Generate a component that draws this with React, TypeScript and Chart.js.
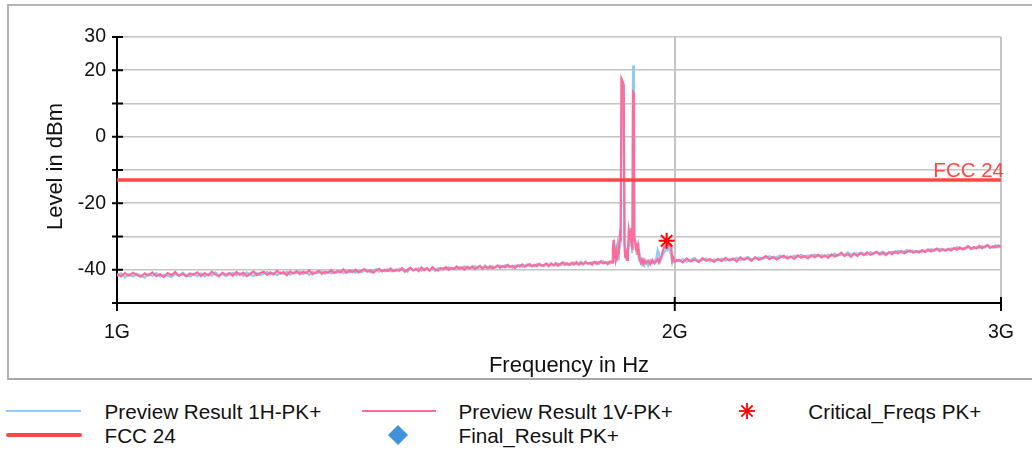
import React, { useEffect, useRef } from 'react';
import { Chart, registerables } from 'chart.js';

Chart.register(...registerables);

// ---------- data ----------
const FREQ_MHZ = [
  1000, 1005, 1010, 1015, 1020, 1025, 1030, 1035, 1040, 1045,
  1050, 1055, 1060, 1065, 1070, 1075, 1080, 1085, 1090, 1095,
  1100, 1105, 1110, 1115, 1120, 1125, 1130, 1135, 1140, 1145,
  1150, 1155, 1160, 1165, 1170, 1175, 1180, 1185, 1190, 1195,
  1200, 1205, 1210, 1215, 1220, 1225, 1230, 1235, 1240, 1245,
  1250, 1255, 1260, 1265, 1270, 1275, 1280, 1285, 1290, 1295,
  1300, 1305, 1310, 1315, 1320, 1325, 1330, 1335, 1340, 1345,
  1350, 1355, 1360, 1365, 1370, 1375, 1380, 1385, 1390, 1395,
  1400, 1405, 1410, 1415, 1420, 1425, 1430, 1435, 1440, 1445,
  1450, 1455, 1460, 1465, 1470, 1475, 1480, 1485, 1490, 1495,
  1500, 1505, 1510, 1515, 1520, 1525, 1530, 1535, 1540, 1545,
  1550, 1555, 1560, 1565, 1570, 1575, 1580, 1585, 1590, 1595,
  1600, 1605, 1610, 1615, 1620, 1625, 1630, 1635, 1640, 1645,
  1650, 1655, 1660, 1665, 1670, 1675, 1680, 1685, 1690, 1695,
  1700, 1705, 1710, 1715, 1720, 1725, 1730, 1735, 1740, 1745,
  1750, 1755, 1760, 1765, 1770, 1775, 1780, 1785, 1790, 1795,
  1800, 1805, 1810, 1815, 1820, 1825, 1830, 1835, 1840, 1845,
  1850,
  1852, 1854, 1856, 1858, 1860, 1862, 1864, 1866, 1868, 1870,
  1872, 1875, 1877,
  1879, 1881, 1883, 1885, 1887, 1889, 1891, 1893, 1895, 1897,
  1898, 1899, 1901, 1902,
  1904, 1906, 1908, 1910, 1912, 1914,
  1917, 1920, 1923, 1926, 1930,
  1935, 1940, 1945, 1950, 1955,
  1958, 1961, 1964, 1967, 1970, 1973, 1976, 1979, 1982, 1985, 1988, 1991, 1994, 1997,
  2000,
  2010, 2020, 2030, 2040, 2050, 2060, 2070, 2080, 2090, 2100,
  2110, 2120, 2130, 2140, 2150, 2160, 2170, 2180, 2190, 2200,
  2210, 2220, 2230, 2240, 2250, 2260, 2270, 2280, 2290, 2300,
  2310, 2320, 2330, 2340, 2350, 2360, 2370, 2380, 2390, 2400,
  2410, 2420, 2430, 2440, 2450, 2460, 2470, 2480, 2490, 2500,
  2510, 2520, 2530, 2540, 2550, 2560, 2570, 2580, 2590, 2600,
  2610, 2620, 2630, 2640, 2650, 2660, 2670, 2680, 2690, 2700,
  2710, 2720, 2730, 2740, 2750, 2760, 2770, 2780, 2790, 2800,
  2810, 2820, 2830, 2840, 2850, 2860, 2870, 2880, 2890, 2900,
  2910, 2920, 2930, 2940, 2950, 2960, 2970, 2980, 2990, 3000,
];

const LEVEL_1H = [
  -41.8, -41.1, -42.3, -41.4, -42.0, -41.2, -41.7, -42.4, -41.3, -41.9,
  -41.0, -42.1, -41.5, -41.8, -42.2, -41.3, -41.9, -40.9, -41.6, -42.0,
  -41.2, -41.9, -41.1, -42.0, -41.3, -41.8, -40.8, -41.7, -41.2, -41.9,
  -41.4, -40.9, -41.7, -41.1, -41.8, -40.8, -41.5, -41.9, -41.0, -41.6,
  -41.2, -40.7, -41.4, -40.9, -41.6, -40.8, -41.3, -40.6, -41.5, -40.9,
  -41.0, -40.5, -41.3, -40.8, -41.5, -40.6, -41.1, -40.9, -40.4, -41.2,
  -40.5, -41.1, -40.6, -40.9, -40.2, -41.0, -40.5, -40.8, -40.1, -40.9,
  -40.2, -40.7, -40.4, -40.0, -40.8, -40.3, -39.8, -40.6, -40.1, -40.5,
  -39.8, -40.5, -40.0, -40.4, -39.7, -40.2, -39.9, -40.6, -39.6, -40.1,
  -40.0, -39.6, -40.3, -39.8, -39.4, -40.1, -39.7, -40.3, -39.5, -39.9,
  -39.5, -39.9, -39.3, -39.8, -39.5, -39.9, -39.2, -39.6, -39.0, -39.7,
  -39.3, -39.5, -38.9, -39.6, -39.2, -39.4, -38.7, -39.3, -39.6, -38.9,
  -39.4, -39.0, -38.8, -39.3, -38.6, -39.1, -38.9, -39.4, -38.7, -39.0,
  -38.6, -39.1, -38.8, -38.4, -38.9, -38.6, -39.0, -38.3, -38.7, -38.5,
  -38.9, -38.4, -38.6, -38.0, -38.5, -38.7, -38.2, -38.6, -38.4, -37.9,
  -38.5, -38.2, -38.4, -37.8, -38.3, -38.1, -37.6, -38.4, -38.0, -37.9,
  -38.2, -37.7, -38.0, -37.6, -38.3, -37.9, -37.5, -38.0, -37.6, -38.1,
  -37.4,
  -36.5, -35.0, -33.0, -36.0, -34.0, -32.5, -36.8, -34.0, -33.5, -31.0,
  16.8, 16.0, 15.0,
  -31.5, -34.0, -37.0, -33.5, -36.0, -31.0, -30.0, -33.0, -30.5, -35.0,
  -35.0, 21.4, 13.5, -31.0,
  -31.0, -33.0, -35.5, -33.5, -36.0, -35.0,
  -36.8, -38.2, -37.2, -38.6, -37.4,
  -38.8, -37.2, -38.0, -37.4, -36.5,
  -34.0, -35.0, -37.5, -36.5, -35.5, -35.0, -34.5, -33.5, -34.0, -33.2, -34.5, -35.5, -38.0, -37.2,
  -36.7,
  -37.5, -36.8, -37.6, -37.0, -36.5, -37.4, -37.1, -36.6, -37.5, -36.9,
  -37.2, -36.6, -37.3, -36.8, -37.0, -36.4, -37.1, -36.7, -36.2, -36.9,
  -36.6, -36.3, -36.8, -36.4, -35.9, -36.5, -36.2, -35.7, -36.4, -36.0,
  -36.3, -35.8, -36.2, -35.5, -36.1, -35.7, -36.0, -35.4, -35.9, -35.6,
  -36.0, -35.5, -35.8, -35.1, -35.7, -35.4, -35.6, -34.8, -35.5, -35.0,
  -35.3, -34.9, -35.2, -35.5, -34.7, -35.2, -34.8, -35.0, -34.5, -35.1,
  -35.0, -34.6, -34.9, -34.3, -34.8, -34.5, -34.0, -34.7, -34.3, -34.6,
  -34.3, -34.6, -34.2, -34.4, -33.8, -34.3, -34.1, -33.7, -34.2, -33.9,
  -34.0, -33.6, -33.8, -33.2, -33.7, -33.5, -33.8, -33.1, -33.4, -33.6,
  -33.2, -33.5, -32.9, -33.3, -32.8, -33.1, -33.4, -32.6, -33.2, -32.9,
];

const LEVEL_1V = [
  -41.2, -42.0, -41.0, -41.8, -40.9, -41.6, -42.1, -41.1, -41.7, -40.8,
  -41.9, -41.3, -42.2, -41.0, -41.6, -40.7, -41.8, -41.2, -42.0, -41.1,
  -41.5, -40.8, -41.9, -41.0, -41.7, -40.6, -41.4, -42.0, -40.9, -41.6,
  -41.0, -41.8, -40.7, -41.5, -40.9, -41.9, -41.2, -40.5, -41.6, -41.0,
  -40.6, -41.5, -40.8, -41.4, -40.3, -41.2, -40.7, -41.6, -40.5, -41.1,
  -40.4, -41.3, -40.6, -41.0, -40.2, -41.4, -40.8, -40.3, -41.2, -40.6,
  -40.9, -40.1, -41.0, -40.4, -40.8, -39.9, -40.9, -40.2, -40.7, -40.0,
  -40.8, -40.3, -39.8, -40.6, -40.1, -40.9, -40.2, -39.7, -40.5, -40.0,
  -40.4, -39.6, -40.5, -39.9, -40.3, -39.5, -40.6, -40.0, -39.4, -40.2,
  -39.7, -40.4, -39.3, -40.1, -39.6, -40.3, -39.2, -39.9, -40.2, -39.5,
  -39.9, -39.2, -40.0, -39.4, -39.8, -39.0, -39.7, -39.3, -40.0, -39.1,
  -39.6, -39.0, -39.8, -39.2, -38.8, -39.7, -39.1, -39.5, -38.9, -39.6,
  -39.2, -38.7, -39.4, -38.9, -39.3, -38.5, -39.2, -38.8, -39.5, -38.6,
  -39.0, -38.4, -39.1, -38.7, -38.3, -39.0, -38.5, -38.9, -38.2, -38.8,
  -38.6, -38.1, -38.9, -38.3, -38.7, -38.0, -38.8, -38.2, -37.8, -38.5,
  -38.1, -38.6, -37.9, -38.4, -37.7, -38.5, -38.0, -38.3, -37.6, -38.2,
  -37.9, -38.4, -37.6, -38.2, -37.8, -37.4, -38.1, -37.7, -38.3, -37.5,
  -37.9,
  -33.5, -31.0, -35.5, -37.0, -34.5, -36.2, -35.0, -33.0, -30.0, -31.5,
  17.4, 16.5, 15.6,
  -33.0, -36.5, -34.0, -37.0, -35.0, -28.0, -29.5, -30.5, -27.5, -33.0,
  -34.0, 13.4, 13.0, -30.5,
  -31.5, -34.0, -32.0, -35.5, -33.5, -36.5,
  -37.8, -36.9, -38.2, -37.1, -38.0,
  -37.3, -38.3, -37.0, -38.1, -37.4,
  -36.8, -37.8, -37.0, -36.0, -34.5, -33.5, -33.0, -32.5, -32.0, -32.8, -32.3, -32.6, -37.2, -36.4,
  -37.6,
  -37.0, -37.8, -36.6, -37.5, -36.9, -37.7, -36.5, -37.3, -36.8, -37.6,
  -36.7, -37.4, -36.4, -37.2, -36.6, -37.5, -36.3, -37.0, -36.5, -37.3,
  -36.2, -37.0, -36.5, -35.9, -36.8, -36.1, -36.9, -36.3, -35.8, -36.6,
  -36.0, -36.7, -35.7, -36.4, -35.9, -36.6, -35.6, -36.2, -35.5, -36.3,
  -35.7, -36.4, -35.4, -36.0, -35.6, -34.9, -35.9, -35.3, -36.1, -35.2,
  -35.8, -35.0, -35.6, -34.8, -35.5, -35.1, -34.6, -35.4, -34.9, -35.6,
  -34.7, -35.3, -34.5, -35.1, -34.3, -35.0, -34.6, -34.2, -34.9, -34.4,
  -34.8, -34.1, -34.7, -33.9, -34.5, -34.0, -33.6, -34.4, -33.8, -34.3,
  -33.7, -34.2, -33.5, -34.0, -33.3, -33.9, -33.4, -32.9, -33.8, -33.2,
  -33.6, -32.8, -33.5, -33.0, -32.6, -33.4, -32.9, -33.3, -32.7, -33.1,
];

const FCC_LIMIT_DBM = -13;
const FCC_RANGE_MHZ = [1000, 3000];
const CRITICAL_FREQ_MHZ = [1980];
const CRITICAL_LEVEL = [-31.3];
const FINAL_FREQ_MHZ: number[] = [];
const FINAL_LEVEL: number[] = [];

const X_TICKS_MHZ = [1000, 2000, 3000];
const X_TICK_LABELS = ['1G', '2G', '3G'];
const Y_TICK_LABELS = [30, 20, 0, -20, -40];

// ---------- styles ----------
const FONT = '"Liberation Sans", Arial, Helvetica, sans-serif';
const BLUE = '#8ecaf5';
const PINK = '#ff6b9b';
const RED = '#ff4646';
const STAR_RED = '#ff0000';
const DIAMOND = '#3f92dc';
const TEXT = '#111111';

const overlayPlugin = {
  id: 'overlay',
  afterDraw(chart: any) {
    const { ctx, chartArea, scales } = chart;
    const xs = scales.x;
    const ys = scales.y;
    ctx.save();
    ctx.strokeStyle = '#000';
    ctx.lineWidth = 2;
    ys.ticks.forEach((t: any) => {
      const py = ys.getPixelForValue(t.value);
      ctx.beginPath();
      ctx.moveTo(chartArea.left - 5, py);
      ctx.lineTo(chartArea.left + 6, py);
      ctx.stroke();
    });
    xs.ticks.forEach((t: any) => {
      const px = xs.getPixelForValue(t.value);
      ctx.beginPath();
      ctx.moveTo(px, chartArea.bottom - 6);
      ctx.lineTo(px, chartArea.bottom + 8);
      ctx.stroke();
    });
    // limit label
    ctx.fillStyle = RED;
    ctx.font = `20.5px ${FONT}`;
    ctx.textAlign = 'right';
    ctx.textBaseline = 'alphabetic';
    ctx.fillText('FCC 24', chartArea.right + 3, ys.getPixelForValue(FCC_LIMIT_DBM) - 3);
    // axis titles
    ctx.fillStyle = TEXT;
    ctx.font = `22px ${FONT}`;
    ctx.textAlign = 'center';
    ctx.textBaseline = 'middle';
    ctx.fillText('Frequency in Hz', (chartArea.left + chartArea.right) / 2 + 10, chartArea.bottom + 63);
    ctx.translate(chartArea.left - 61, (chartArea.top + chartArea.bottom) / 2 - 3.5);
    ctx.rotate(-Math.PI / 2);
    ctx.fillText('Level in dBm', 0, 0);
    ctx.restore();
  },
};

function LegendText({ text, left, top }: { text: string; left: number; top: number }) {
  return (
    <div
      style={{
        position: 'absolute',
        left,
        top,
        font: `20.7px ${FONT}`,
        lineHeight: '24px',
        color: TEXT,
        whiteSpace: 'nowrap',
      }}
    >
      {text}
    </div>
  );
}

export default function App() {
  const ref = useRef<HTMLCanvasElement | null>(null);

  useEffect(() => {
    if (!ref.current) return;
    const chart = new Chart(ref.current, {
      type: 'line',
      data: {
        datasets: [
          {
            label: 'Preview Result 1H-PK+',
            data: FREQ_MHZ.map((f, i) => ({ x: f * 1e6, y: LEVEL_1H[i] })),
            borderColor: BLUE,
            borderWidth: 2.2,
            pointRadius: 0,
            tension: 0,
            order: 3,
          },
          {
            label: 'Preview Result 1V-PK+',
            data: FREQ_MHZ.map((f, i) => ({ x: f * 1e6, y: LEVEL_1V[i] })),
            borderColor: PINK,
            borderWidth: 2.2,
            pointRadius: 0,
            tension: 0,
            order: 2,
          },
          {
            label: 'FCC 24',
            data: FCC_RANGE_MHZ.map((f) => ({ x: f * 1e6, y: FCC_LIMIT_DBM })),
            borderColor: RED,
            borderWidth: 3.5,
            pointRadius: 0,
            order: 1,
          },
          {
            label: 'Critical_Freqs PK+',
            data: CRITICAL_FREQ_MHZ.map((f, i) => ({ x: f * 1e6, y: CRITICAL_LEVEL[i] })),
            showLine: false,
            pointStyle: 'star',
            pointRadius: 8,
            pointBorderWidth: 2,
            borderColor: STAR_RED,
            pointBorderColor: STAR_RED,
            backgroundColor: STAR_RED,
            order: 0,
          },
          {
            label: 'Final_Result PK+',
            data: FINAL_FREQ_MHZ.map((f, i) => ({ x: f * 1e6, y: FINAL_LEVEL[i] })),
            showLine: false,
            pointStyle: 'rectRot',
            pointRadius: 8,
            backgroundColor: DIAMOND,
            borderColor: DIAMOND,
            order: 0,
          },
        ],
      } as any,
      options: {
        animation: false,
        responsive: false,
        maintainAspectRatio: false,
        layout: { padding: { left: 0, top: 37, right: 30, bottom: 0 } },
        plugins: { legend: { display: false }, tooltip: { enabled: false } },
        scales: {
          x: {
            type: 'logarithmic',
            min: 1e9,
            max: 3e9,
            afterBuildTicks: (s: any) => {
              s.ticks = X_TICKS_MHZ.map((v) => ({ value: v * 1e6 }));
            },
            afterFit: (s: any) => {
              s.height = 77;
            },
            ticks: {
              callback: (_v: any, i: number) => X_TICK_LABELS[i],
              autoSkip: false,
              maxRotation: 0,
              padding: 18,
              color: TEXT,
              font: { family: FONT, size: 19.5 },
            },
            grid: { color: '#c4c4c4', lineWidth: 2, drawTicks: false },
            border: { color: '#000', width: 2 },
          },
          y: {
            type: 'linear',
            min: -50,
            max: 30,
            afterFit: (s: any) => {
              s.width = 117;
            },
            ticks: {
              stepSize: 10,
              callback: (v: any) => (Y_TICK_LABELS.includes(Number(v)) ? String(v) : ''),
              padding: 11,
              color: TEXT,
              font: { family: FONT, size: 19.5 },
            },
            grid: { color: '#c4c4c4', lineWidth: 1.6, drawTicks: false },
            border: { color: '#000', width: 2 },
          },
        },
      } as any,
      plugins: [overlayPlugin],
    });
    return () => chart.destroy();
  }, []);

  return (
    <div
      style={{
        position: 'fixed',
        left: 0,
        top: 0,
        width: 1032,
        height: 453,
        overflow: 'hidden',
        background: '#fff',
      }}
    >
      <div
        style={{
          position: 'absolute',
          left: 7,
          top: 4,
          width: 1100,
          height: 372,
          borderTop: '2px solid #b4b4b4',
          borderLeft: '2px solid #b4b4b4',
          borderBottom: '2px solid #a8a8a8',
          boxSizing: 'content-box',
        }}
      />
      <canvas
        ref={ref}
        width={1032}
        height={380}
        style={{ position: 'absolute', left: 0, top: 0, width: 1032, height: 380 }}
      />
      {/* legend */}
      <div style={{ position: 'absolute', left: 6, top: 410, width: 75, height: 2, background: BLUE }} />
      <LegendText text="Preview Result 1H-PK+" left={104.5} top={400.4} />
      <div style={{ position: 'absolute', left: 361.5, top: 410, width: 74, height: 2, background: PINK }} />
      <LegendText text="Preview Result 1V-PK+" left={458.5} top={400.4} />
      <svg style={{ position: 'absolute', left: 739.3, top: 402.7 }} width={16} height={16}>
        <g stroke={STAR_RED} strokeWidth={1.8}>
          <line x1={8} y1={0} x2={8} y2={16} />
          <line x1={0} y1={8} x2={16} y2={8} />
          <line x1={2.3} y1={2.3} x2={13.7} y2={13.7} />
          <line x1={13.7} y1={2.3} x2={2.3} y2={13.7} />
        </g>
      </svg>
      <LegendText text="Critical_Freqs PK+" left={808.3} top={400.4} />
      <div
        style={{
          position: 'absolute',
          left: 6,
          top: 432.7,
          width: 75.5,
          height: 4,
          borderRadius: 2,
          background: RED,
        }}
      />
      <LegendText text="FCC 24" left={104.5} top={424.4} />
      <svg style={{ position: 'absolute', left: 388.3, top: 425 }} width={20} height={20}>
        <polygon points="10,0 20,10 10,20 0,10" fill={DIAMOND} />
      </svg>
      <LegendText text="Final_Result PK+" left={458.5} top={424.4} />
    </div>
  );
}
